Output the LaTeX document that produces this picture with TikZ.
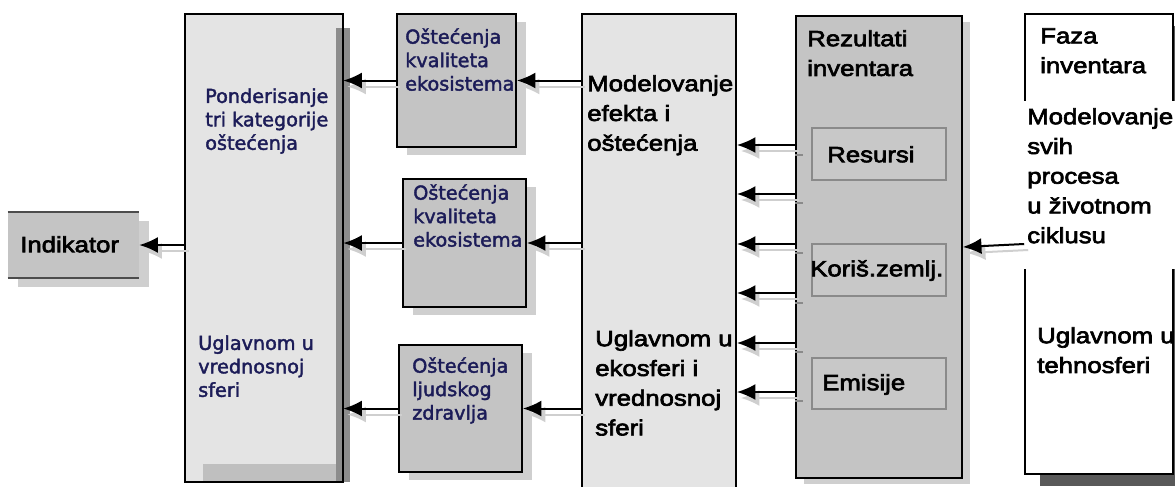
\documentclass[tikz,border=0pt]{standalone}
\usepackage{fontspec}
\setmainfont{Liberation Sans}
\newfontfamily\arialf[FakeStretch=1.17,FakeBold=3]{Liberation Sans}
\newfontfamily\verdf[FakeBold=2]{DejaVu Sans}
\usetikzlibrary{fit,shadows,arrows.meta}
\tikzset{>={Latex[length=14pt,width=12pt]}}
\definecolor{lightbox}{HTML}{E4E4E4}
\definecolor{darkbox}{HTML}{C4C4C4}
\definecolor{innerbox}{HTML}{C8C8C8}
\definecolor{innerline}{HTML}{8A8A8A}
\definecolor{shadegray}{HTML}{CFCFCF}
\definecolor{navytext}{HTML}{1C1C58}

\begin{document}
\begin{tikzpicture}[x=0.75pt,y=-0.75pt,
  box/.style={draw=black,line width=1.2pt,inner sep=0pt},
  lbl/.style={anchor=north west,inner sep=0pt,align=left,font=\arialf\fontsize{16.5pt}{22.3pt}\selectfont},
  slbl/.style={anchor=north west,inner sep=0pt,align=left,text=navytext,font=\verdf\fontsize{14.4pt}{17.6pt}\selectfont},
  arr/.style={->,line width=1.5pt},
  sarr/.style={->,line width=1.5pt,draw=shadegray,fill=shadegray,transform canvas={xshift=3pt,yshift=-4.5pt}}]
  \useasboundingbox (0,0) rectangle (1175,486);

%% indikator
  \node[fill=darkbox,inner sep=0pt,fit={(8,212) (139,278)},
        drop shadow={shadow xshift=7.5pt,shadow yshift=-6.75pt,fill=shadegray,opacity=1}] (ind) {};
  \draw[line width=1.5pt,black!70] (ind.north west) -- (ind.north east);
  \draw[line width=1.5pt,black!70] (ind.south west) -- (ind.south east);

%% ponderisanje
  \node[fill=lightbox,inner sep=0pt,fit={(185,14) (343,482)}] (pond) {};
  \fill[black!45] (336,28) rectangle (350,482);
  \fill[black!25] (203,464) rectangle (336,482);
  \draw[line width=1.2pt] (pond.north west) rectangle (pond.south east);

%% ostecenja
  \node[box,fill=darkbox,fit={(397,14) (516,147)},
        drop shadow={shadow xshift=7.5pt,shadow yshift=-6pt,fill=shadegray,opacity=1}] (ost1) {};
  \node[box,fill=darkbox,fit={(403,179) (526,307)},
        drop shadow={shadow xshift=7.5pt,shadow yshift=-6pt,fill=shadegray,opacity=1}] (ost2) {};
  \node[box,fill=darkbox,fit={(399,345) (522,472)},
        drop shadow={shadow xshift=7.5pt,shadow yshift=-6pt,fill=shadegray,opacity=1}] (ost3) {};

%% modelovanje
  \node[box,fill=lightbox,fit={(582,14) (736,495)}] (model) {};

%% rezultati
  \node[box,fill=darkbox,fit={(796,16) (962,478)},
        drop shadow={shadow xshift=6pt,shadow yshift=-4.5pt,fill=shadegray,opacity=1}] (rez) {};
  \node[fill=innerbox,draw=innerline,line width=1.2pt,inner sep=0pt,fit={(812,128) (946,180)}] (res) {};
  \node[fill=innerbox,draw=innerline,line width=1.2pt,inner sep=0pt,fit={(812,244) (946,296)}] (kor) {};
  \node[fill=innerbox,draw=innerline,line width=1.2pt,inner sep=0pt,fit={(812,358) (946,409)}] (emi) {};
  \foreach \y in {155,203,253,303,352,401}
    \draw[innerline,line width=1.5pt] (rez.west |- 0,\y) -- ++(8,0);

%% faza
  \node[box,fill=white,fit={(1025,14) (1173,474)},
        drop shadow={shadow xshift=11pt,shadow yshift=-9pt,fill=black!65,opacity=1}] (faza) {};
  \fill[white] (1021,101) rectangle (1176,269);

%% texts
  \node[lbl] (indt) at (20,236) {Indikator};
  \node[slbl] (pondt) at (205,88) {Ponderisanje\\tri kategorije\\oštećenja};
  \node[slbl] (pondb) at (198,335) {Uglavnom u\\vrednosnoj\\sferi};
  \node[slbl] (ost1t) at (405,28) {Oštećenja\\kvaliteta\\ekosistema};
  \node[slbl] (ost2t) at (413,184) {Oštećenja\\kvaliteta\\ekosistema};
  \node[slbl] (ost3t) at (412,357) {Oštećenja\\ljudskog\\zdravlja};
  \node[lbl] (modelt) at (587,75) {Modelovanje\\efekta i\\oštećenja};
  \node[lbl] (modelb) at (595,330) {Uglavnom u\\ekosferi i\\vrednosnoj\\sferi};
  \node[lbl] (rezt) at (807,30) {Rezultati\\inventara};
  \node[lbl] (rest) at (827,146) {Resursi};
  \node[lbl] (kort) at (810,260) {Koriš.zemlj.};
  \node[lbl] (emit) at (822,374) {Emisije};
  \node[lbl] (fazat) at (1040,28) {Faza\\inventara};
  \node[lbl] (fazam) at (1027,108) {Modelovanje\\svih\\procesa\\u životnom\\ciklusu};
  \node[lbl] (fazab) at (1037,327) {Uglavnom u\\tehnosferi};

%% arrows
  \draw[sarr] (pond.west |- ind) -- (ind.east);
  \draw[arr] (pond.west |- ind) -- (ind.east);
  \foreach \n in {ost1,ost2,ost3} {
    \draw[sarr] (\n.west) -- (\n.west -| pond.east);
    \draw[arr] (\n.west) -- (\n.west -| pond.east);
    \draw[sarr] (model.west |- \n.west) -- (\n.east);
    \draw[arr] (model.west |- \n.west) -- (\n.east);
  }
  \foreach \y in {145,194,244,293,343,392} {
    \draw[sarr] (rez.west |- 0,\y) -- (model.east |- 0,\y);
    \draw[arr] (rez.west |- 0,\y) -- (model.east |- 0,\y);
  }
  \draw[sarr] (faza.west) -- (rez.east);
  \draw[arr] (faza.west) -- (rez.east);

\end{tikzpicture}
\end{document}
